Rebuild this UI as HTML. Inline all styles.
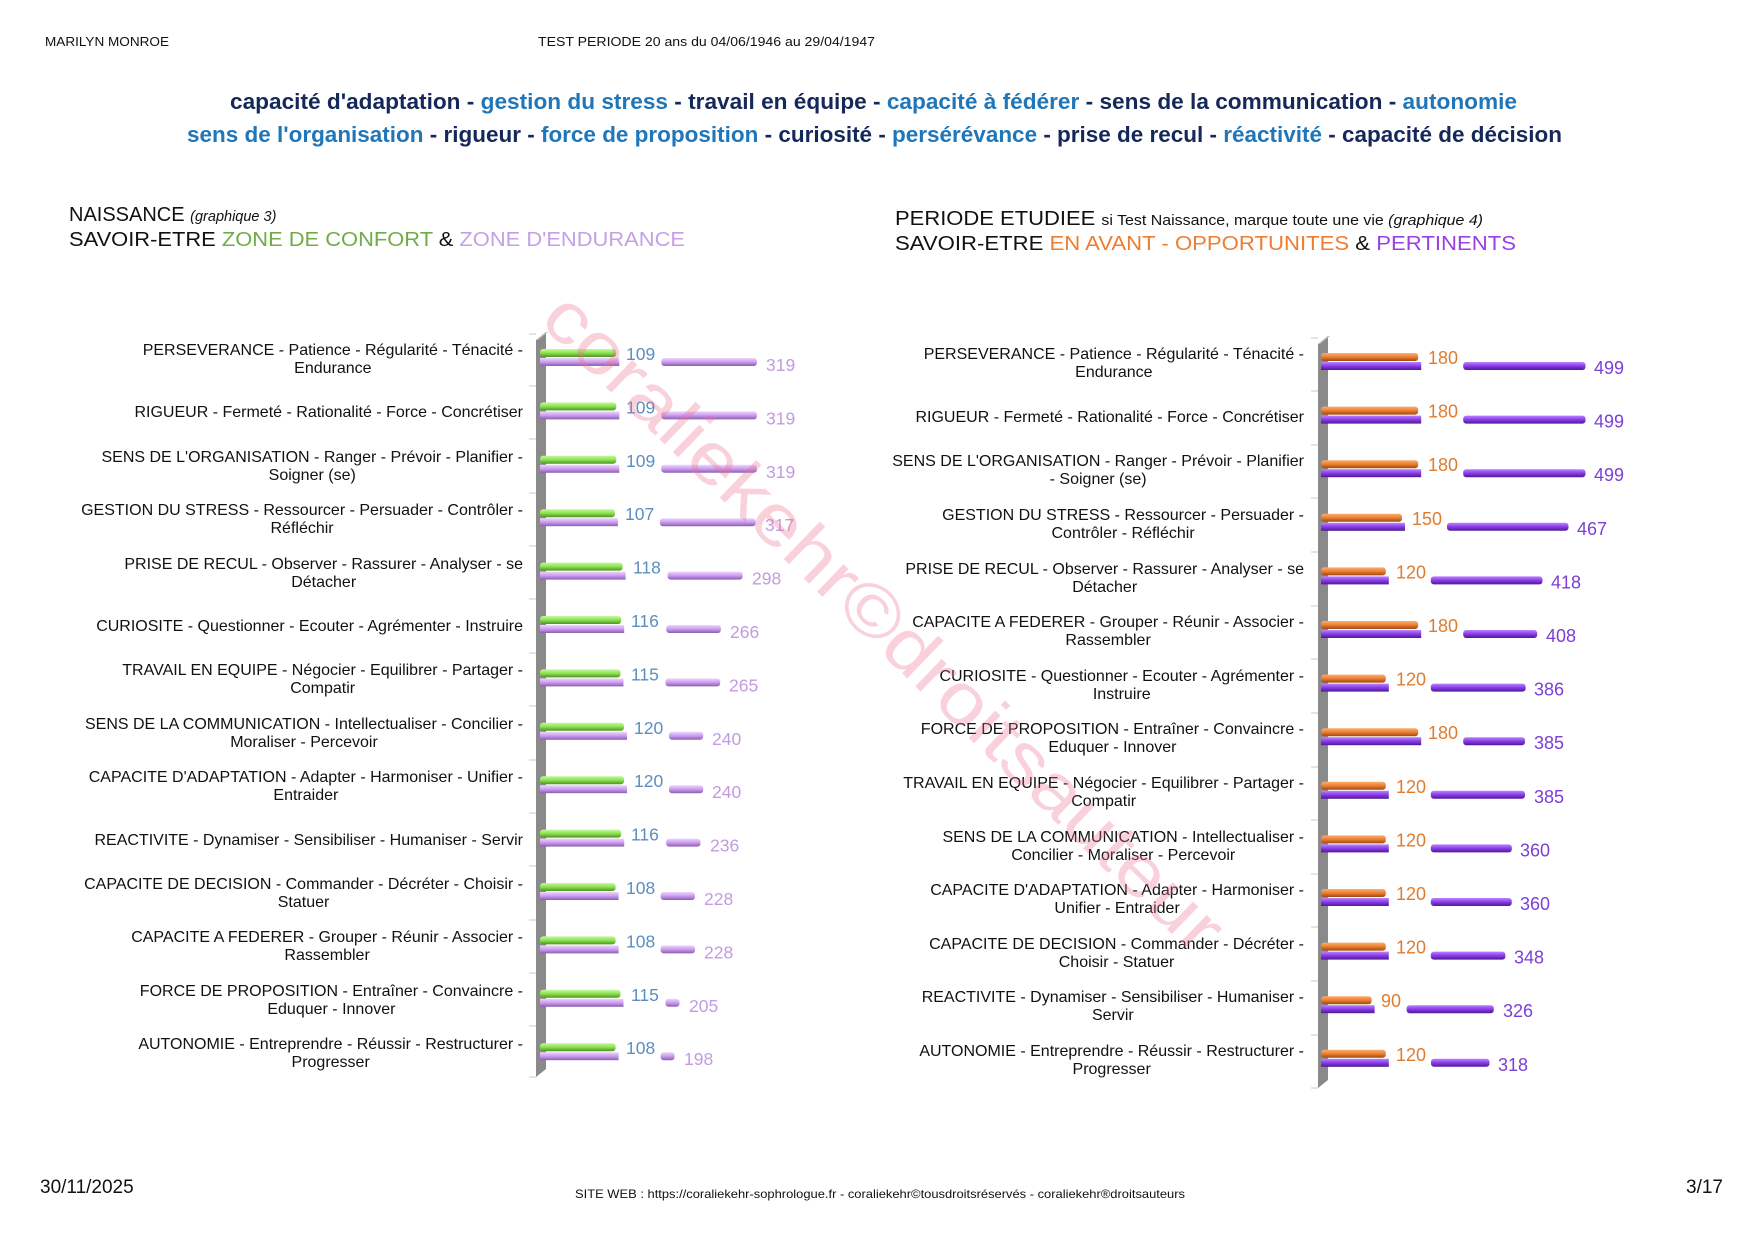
<!DOCTYPE html>
<html><head><meta charset="utf-8">
<style>
html,body{margin:0;padding:0;background:#fff;}
#p{position:relative;width:1754px;height:1240px;overflow:hidden;background:#fff;font-family:"Liberation Sans",Arial,sans-serif;}
svg{position:absolute;left:0;top:0;}
.l{position:absolute;font-size:16px;line-height:18px;color:#111;text-align:center;transform:translateY(-50%);white-space:nowrap;}
.L{right:1231px;}
.R{right:450px;}
</style></head><body><div id="p">
<svg width="1754" height="1240" viewBox="0 0 1754 1240" font-family="Liberation Sans, Arial, sans-serif">
<defs>
<linearGradient id="gg" x1="0" y1="0" x2="0" y2="1"><stop offset="0" stop-color="#c6f7a0"/><stop offset="0.5" stop-color="#8be24c"/><stop offset="1" stop-color="#4c9326"/></linearGradient>
<linearGradient id="gl" x1="0" y1="0" x2="0" y2="1"><stop offset="0" stop-color="#eed6fb"/><stop offset="0.5" stop-color="#cb9cef"/><stop offset="1" stop-color="#8a5fae"/></linearGradient>
<linearGradient id="go" x1="0" y1="0" x2="0" y2="1"><stop offset="0" stop-color="#f9b070"/><stop offset="0.5" stop-color="#ee7d2f"/><stop offset="1" stop-color="#9c4a10"/></linearGradient>
<linearGradient id="gp" x1="0" y1="0" x2="0" y2="1"><stop offset="0" stop-color="#b985ff"/><stop offset="0.5" stop-color="#8a3be6"/><stop offset="1" stop-color="#4c1a96"/></linearGradient>
</defs>
<text x="45" y="46" font-size="12.5" textLength="124" lengthAdjust="spacingAndGlyphs" fill="#111">MARILYN MONROE</text>
<text x="538" y="46" font-size="12.5" textLength="337" lengthAdjust="spacingAndGlyphs" fill="#111">TEST PERIODE 20 ans du 04/06/1946 au 29/04/1947</text>
<text x="230" y="109" font-size="22" font-weight="bold" textLength="1287" lengthAdjust="spacingAndGlyphs"><tspan fill="#14285a">capacité d'adaptation - </tspan><tspan fill="#1f76b8">gestion du stress</tspan><tspan fill="#14285a"> - travail en équipe - </tspan><tspan fill="#1f76b8">capacité à fédérer</tspan><tspan fill="#14285a"> - sens de la communication - </tspan><tspan fill="#1f76b8">autonomie</tspan></text>
<text x="187" y="142" font-size="22" font-weight="bold" textLength="1375" lengthAdjust="spacingAndGlyphs"><tspan fill="#1f76b8">sens de l'organisation</tspan><tspan fill="#14285a"> - rigueur - </tspan><tspan fill="#1f76b8">force de proposition</tspan><tspan fill="#14285a"> - curiosité - </tspan><tspan fill="#1f76b8">persérévance</tspan><tspan fill="#14285a"> - prise de recul - </tspan><tspan fill="#1f76b8">réactivité</tspan><tspan fill="#14285a"> - capacité de décision</tspan></text>
<text x="69" y="221" font-size="20" fill="#111">NAISSANCE <tspan font-size="14.5" font-style="italic">(graphique 3)</tspan></text>
<text x="69" y="246" font-size="20" textLength="616" lengthAdjust="spacingAndGlyphs" fill="#111">SAVOIR-ETRE <tspan fill="#70ad47">ZONE DE CONFORT</tspan> &amp; <tspan fill="#c6a0e6">ZONE D'ENDURANCE</tspan></text>
<text x="895" y="225" font-size="20" fill="#111" textLength="588" lengthAdjust="spacingAndGlyphs">PERIODE ETUDIEE <tspan font-size="14.5">si Test Naissance, marque toute une vie </tspan><tspan font-size="14.5" font-style="italic">(graphique 4)</tspan></text>
<text x="895" y="250" font-size="20" fill="#111" textLength="621" lengthAdjust="spacingAndGlyphs">SAVOIR-ETRE <tspan fill="#ed7d31">EN AVANT - OPPORTUNITES</tspan> &amp; <tspan fill="#9a40e6">PERTINENTS</tspan></text>

<polygon points="536,340 546,332 546,1069 536,1077" fill="#8a8a8a"/>
<polygon points="536,340 546,332 548,332 538,340" fill="#bbb"/>
<g stroke="#c8c8c8" stroke-width="1">
<line x1="529" y1="334" x2="536" y2="334"/><line x1="529" y1="386" x2="536" y2="386"/><line x1="529" y1="439" x2="536" y2="439"/><line x1="529" y1="493" x2="536" y2="493"/><line x1="529" y1="546" x2="536" y2="546"/><line x1="529" y1="599" x2="536" y2="599"/><line x1="529" y1="653" x2="536" y2="653"/><line x1="529" y1="706" x2="536" y2="706"/><line x1="529" y1="760" x2="536" y2="760"/><line x1="529" y1="813" x2="536" y2="813"/><line x1="529" y1="866" x2="536" y2="866"/><line x1="529" y1="920" x2="536" y2="920"/><line x1="529" y1="973" x2="536" y2="973"/><line x1="529" y1="1026" x2="536" y2="1026"/><line x1="529" y1="1077" x2="536" y2="1077"/>
</g>
<g font-size="17.5">
<g transform="translate(0,349)"><rect x="540" y="0" width="76.3" height="8" rx="3" fill="url(#gg)"/><rect x="540" y="9" width="79.3" height="8" fill="url(#gl)"/><rect x="661.3" y="9" width="95.6" height="8" rx="3" fill="url(#gl)"/><text x="626" y="11" fill="#5b8fc0">109</text><text x="766" y="22" fill="#c39be0">319</text></g>
<g transform="translate(0,402.4)"><rect x="540" y="0" width="76.3" height="8" rx="3" fill="url(#gg)"/><rect x="540" y="9" width="79.3" height="8" fill="url(#gl)"/><rect x="661.3" y="9" width="95.6" height="8" rx="3" fill="url(#gl)"/><text x="626" y="11" fill="#5b8fc0">109</text><text x="766" y="22" fill="#c39be0">319</text></g>
<g transform="translate(0,455.8)"><rect x="540" y="0" width="76.3" height="8" rx="3" fill="url(#gg)"/><rect x="540" y="9" width="79.3" height="8" fill="url(#gl)"/><rect x="661.3" y="9" width="95.6" height="8" rx="3" fill="url(#gl)"/><text x="626" y="11" fill="#5b8fc0">109</text><text x="766" y="22" fill="#c39be0">319</text></g>
<g transform="translate(0,509.2)"><rect x="540" y="0" width="74.9" height="8" rx="3" fill="url(#gg)"/><rect x="540" y="9" width="77.9" height="8" fill="url(#gl)"/><rect x="659.9" y="9" width="95.7" height="8" rx="3" fill="url(#gl)"/><text x="625" y="11" fill="#5b8fc0">107</text><text x="765" y="22" fill="#c39be0">317</text></g>
<g transform="translate(0,562.6)"><rect x="540" y="0" width="82.6" height="8" rx="3" fill="url(#gg)"/><rect x="540" y="9" width="85.6" height="8" fill="url(#gl)"/><rect x="667.6" y="9" width="75" height="8" rx="3" fill="url(#gl)"/><text x="633" y="11" fill="#5b8fc0">118</text><text x="752" y="22" fill="#c39be0">298</text></g>
<g transform="translate(0,616)"><rect x="540" y="0" width="81.2" height="8" rx="3" fill="url(#gg)"/><rect x="540" y="9" width="84.2" height="8" fill="url(#gl)"/><rect x="666.2" y="9" width="54.7" height="8" rx="3" fill="url(#gl)"/><text x="631" y="11" fill="#5b8fc0">116</text><text x="730" y="22" fill="#c39be0">266</text></g>
<g transform="translate(0,669.4)"><rect x="540" y="0" width="80.5" height="8" rx="3" fill="url(#gg)"/><rect x="540" y="9" width="83.5" height="8" fill="url(#gl)"/><rect x="665.5" y="9" width="54.7" height="8" rx="3" fill="url(#gl)"/><text x="631" y="11" fill="#5b8fc0">115</text><text x="729" y="22" fill="#c39be0">265</text></g>
<g transform="translate(0,722.8)"><rect x="540" y="0" width="84" height="8" rx="3" fill="url(#gg)"/><rect x="540" y="9" width="87" height="8" fill="url(#gl)"/><rect x="669" y="9" width="34.2" height="8" rx="3" fill="url(#gl)"/><text x="634" y="11" fill="#5b8fc0">120</text><text x="712" y="22" fill="#c39be0">240</text></g>
<g transform="translate(0,776.2)"><rect x="540" y="0" width="84" height="8" rx="3" fill="url(#gg)"/><rect x="540" y="9" width="87" height="8" fill="url(#gl)"/><rect x="669" y="9" width="34.2" height="8" rx="3" fill="url(#gl)"/><text x="634" y="11" fill="#5b8fc0">120</text><text x="712" y="22" fill="#c39be0">240</text></g>
<g transform="translate(0,829.6)"><rect x="540" y="0" width="81.2" height="8" rx="3" fill="url(#gg)"/><rect x="540" y="9" width="84.2" height="8" fill="url(#gl)"/><rect x="666.2" y="9" width="34.3" height="8" rx="3" fill="url(#gl)"/><text x="631" y="11" fill="#5b8fc0">116</text><text x="710" y="22" fill="#c39be0">236</text></g>
<g transform="translate(0,883)"><rect x="540" y="0" width="75.6" height="8" rx="3" fill="url(#gg)"/><rect x="540" y="9" width="78.6" height="8" fill="url(#gl)"/><rect x="660.6" y="9" width="34.4" height="8" rx="3" fill="url(#gl)"/><text x="626" y="11" fill="#5b8fc0">108</text><text x="704" y="22" fill="#c39be0">228</text></g>
<g transform="translate(0,936.4)"><rect x="540" y="0" width="75.6" height="8" rx="3" fill="url(#gg)"/><rect x="540" y="9" width="78.6" height="8" fill="url(#gl)"/><rect x="660.6" y="9" width="34.4" height="8" rx="3" fill="url(#gl)"/><text x="626" y="11" fill="#5b8fc0">108</text><text x="704" y="22" fill="#c39be0">228</text></g>
<g transform="translate(0,989.8)"><rect x="540" y="0" width="80.5" height="8" rx="3" fill="url(#gg)"/><rect x="540" y="9" width="83.5" height="8" fill="url(#gl)"/><rect x="665.5" y="9" width="14" height="8" rx="3" fill="url(#gl)"/><text x="631" y="11" fill="#5b8fc0">115</text><text x="689" y="22" fill="#c39be0">205</text></g>
<g transform="translate(0,1043.2)"><rect x="540" y="0" width="75.6" height="8" rx="3" fill="url(#gg)"/><rect x="540" y="9" width="78.6" height="8" fill="url(#gl)"/><rect x="660.6" y="9" width="14" height="8" rx="3" fill="url(#gl)"/><text x="626" y="11" fill="#5b8fc0">108</text><text x="684" y="22" fill="#c39be0">198</text></g>
</g>

<polygon points="1318,344 1328,336 1328,1080 1318,1088" fill="#8a8a8a"/>
<polygon points="1318,344 1328,336 1330,336 1320,344" fill="#bbb"/>
<g stroke="#c8c8c8" stroke-width="1">
<line x1="1311" y1="338" x2="1318" y2="338"/><line x1="1311" y1="391" x2="1318" y2="391"/><line x1="1311" y1="445" x2="1318" y2="445"/><line x1="1311" y1="498" x2="1318" y2="498"/><line x1="1311" y1="552" x2="1318" y2="552"/><line x1="1311" y1="606" x2="1318" y2="606"/><line x1="1311" y1="659" x2="1318" y2="659"/><line x1="1311" y1="713" x2="1318" y2="713"/><line x1="1311" y1="767" x2="1318" y2="767"/><line x1="1311" y1="820" x2="1318" y2="820"/><line x1="1311" y1="874" x2="1318" y2="874"/><line x1="1311" y1="927" x2="1318" y2="927"/><line x1="1311" y1="981" x2="1318" y2="981"/><line x1="1311" y1="1035" x2="1318" y2="1035"/><line x1="1311" y1="1088" x2="1318" y2="1088"/>
</g>
<g font-size="18">
<g transform="translate(0,353)"><rect x="1321" y="0" width="97.2" height="8" rx="3" fill="url(#go)"/><rect x="1321" y="9" width="100.2" height="8" fill="url(#gp)"/><rect x="1463.2" y="9" width="122.3" height="8" rx="3" fill="url(#gp)"/><text x="1428" y="11" fill="#e07c30">180</text><text x="1594" y="21" fill="#7b3fd6">499</text></g>
<g transform="translate(0,406.6)"><rect x="1321" y="0" width="97.2" height="8" rx="3" fill="url(#go)"/><rect x="1321" y="9" width="100.2" height="8" fill="url(#gp)"/><rect x="1463.2" y="9" width="122.3" height="8" rx="3" fill="url(#gp)"/><text x="1428" y="11" fill="#e07c30">180</text><text x="1594" y="21" fill="#7b3fd6">499</text></g>
<g transform="translate(0,460.2)"><rect x="1321" y="0" width="97.2" height="8" rx="3" fill="url(#go)"/><rect x="1321" y="9" width="100.2" height="8" fill="url(#gp)"/><rect x="1463.2" y="9" width="122.3" height="8" rx="3" fill="url(#gp)"/><text x="1428" y="11" fill="#e07c30">180</text><text x="1594" y="21" fill="#7b3fd6">499</text></g>
<g transform="translate(0,513.8)"><rect x="1321" y="0" width="81" height="8" rx="3" fill="url(#go)"/><rect x="1321" y="9" width="84" height="8" fill="url(#gp)"/><rect x="1447" y="9" width="121.5" height="8" rx="3" fill="url(#gp)"/><text x="1412" y="11" fill="#e07c30">150</text><text x="1577" y="21" fill="#7b3fd6">467</text></g>
<g transform="translate(0,567.4)"><rect x="1321" y="0" width="64.8" height="8" rx="3" fill="url(#go)"/><rect x="1321" y="9" width="67.8" height="8" fill="url(#gp)"/><rect x="1430.8" y="9" width="111.7" height="8" rx="3" fill="url(#gp)"/><text x="1396" y="11" fill="#e07c30">120</text><text x="1551" y="21" fill="#7b3fd6">418</text></g>
<g transform="translate(0,621)"><rect x="1321" y="0" width="97.2" height="8" rx="3" fill="url(#go)"/><rect x="1321" y="9" width="100.2" height="8" fill="url(#gp)"/><rect x="1463.2" y="9" width="74" height="8" rx="3" fill="url(#gp)"/><text x="1428" y="11" fill="#e07c30">180</text><text x="1546" y="21" fill="#7b3fd6">408</text></g>
<g transform="translate(0,674.6)"><rect x="1321" y="0" width="64.8" height="8" rx="3" fill="url(#go)"/><rect x="1321" y="9" width="67.8" height="8" fill="url(#gp)"/><rect x="1430.8" y="9" width="94.8" height="8" rx="3" fill="url(#gp)"/><text x="1396" y="11" fill="#e07c30">120</text><text x="1534" y="21" fill="#7b3fd6">386</text></g>
<g transform="translate(0,728.2)"><rect x="1321" y="0" width="97.2" height="8" rx="3" fill="url(#go)"/><rect x="1321" y="9" width="100.2" height="8" fill="url(#gp)"/><rect x="1463.2" y="9" width="61.8" height="8" rx="3" fill="url(#gp)"/><text x="1428" y="11" fill="#e07c30">180</text><text x="1534" y="21" fill="#7b3fd6">385</text></g>
<g transform="translate(0,781.8)"><rect x="1321" y="0" width="64.8" height="8" rx="3" fill="url(#go)"/><rect x="1321" y="9" width="67.8" height="8" fill="url(#gp)"/><rect x="1430.8" y="9" width="94.2" height="8" rx="3" fill="url(#gp)"/><text x="1396" y="11" fill="#e07c30">120</text><text x="1534" y="21" fill="#7b3fd6">385</text></g>
<g transform="translate(0,835.4)"><rect x="1321" y="0" width="64.8" height="8" rx="3" fill="url(#go)"/><rect x="1321" y="9" width="67.8" height="8" fill="url(#gp)"/><rect x="1430.8" y="9" width="81" height="8" rx="3" fill="url(#gp)"/><text x="1396" y="11" fill="#e07c30">120</text><text x="1520" y="21" fill="#7b3fd6">360</text></g>
<g transform="translate(0,889)"><rect x="1321" y="0" width="64.8" height="8" rx="3" fill="url(#go)"/><rect x="1321" y="9" width="67.8" height="8" fill="url(#gp)"/><rect x="1430.8" y="9" width="81" height="8" rx="3" fill="url(#gp)"/><text x="1396" y="11" fill="#e07c30">120</text><text x="1520" y="21" fill="#7b3fd6">360</text></g>
<g transform="translate(0,942.6)"><rect x="1321" y="0" width="64.8" height="8" rx="3" fill="url(#go)"/><rect x="1321" y="9" width="67.8" height="8" fill="url(#gp)"/><rect x="1430.8" y="9" width="74.6" height="8" rx="3" fill="url(#gp)"/><text x="1396" y="11" fill="#e07c30">120</text><text x="1514" y="21" fill="#7b3fd6">348</text></g>
<g transform="translate(0,996.2)"><rect x="1321" y="0" width="50.6" height="8" rx="3" fill="url(#go)"/><rect x="1321" y="9" width="53.6" height="8" fill="url(#gp)"/><rect x="1406.6" y="9" width="87.2" height="8" rx="3" fill="url(#gp)"/><text x="1381" y="11" fill="#e07c30">90</text><text x="1503" y="21" fill="#7b3fd6">326</text></g>
<g transform="translate(0,1049.8)"><rect x="1321" y="0" width="64.8" height="8" rx="3" fill="url(#go)"/><rect x="1321" y="9" width="67.8" height="8" fill="url(#gp)"/><rect x="1431" y="9" width="58.5" height="8" rx="3" fill="url(#gp)"/><text x="1396" y="11" fill="#e07c30">120</text><text x="1498" y="21" fill="#7b3fd6">318</text></g>
</g>

<text x="40" y="1193" font-size="19" fill="#111">30/11/2025</text>
<text x="575" y="1198" font-size="12" fill="#111" textLength="610" lengthAdjust="spacingAndGlyphs">SITE WEB : https://coraliekehr-sophrologue.fr -  coraliekehr©tousdroitsréservés  -  coraliekehr®droitsauteurs</text>
<text x="1723" y="1193" font-size="19" fill="#111" text-anchor="end">3/17</text>
</svg>

<div class="l L" style="top:360px">PERSEVERANCE - Patience - Régularité - Ténacité -<br>Endurance</div>
<div class="l L" style="top:413px">RIGUEUR - Fermeté - Rationalité - Force - Concrétiser</div>
<div class="l L" style="top:467px">SENS DE L'ORGANISATION - Ranger - Prévoir - Planifier -<br>Soigner (se)</div>
<div class="l L" style="top:520px">GESTION DU STRESS - Ressourcer - Persuader - Contrôler -<br>Réfléchir</div>
<div class="l L" style="top:574px">PRISE DE RECUL - Observer - Rassurer - Analyser - se<br>Détacher</div>
<div class="l L" style="top:627px">CURIOSITE - Questionner - Ecouter - Agrémenter - Instruire</div>
<div class="l L" style="top:680px">TRAVAIL EN EQUIPE - Négocier - Equilibrer - Partager -<br>Compatir</div>
<div class="l L" style="top:734px">SENS DE LA COMMUNICATION - Intellectualiser - Concilier -<br>Moraliser - Percevoir</div>
<div class="l L" style="top:787px">CAPACITE D'ADAPTATION - Adapter - Harmoniser - Unifier -<br>Entraider</div>
<div class="l L" style="top:841px">REACTIVITE - Dynamiser - Sensibiliser - Humaniser - Servir</div>
<div class="l L" style="top:894px">CAPACITE DE DECISION - Commander - Décréter - Choisir -<br>Statuer</div>
<div class="l L" style="top:947px">CAPACITE A FEDERER - Grouper - Réunir - Associer -<br>Rassembler</div>
<div class="l L" style="top:1001px">FORCE DE PROPOSITION - Entraîner - Convaincre -<br>Eduquer - Innover</div>
<div class="l L" style="top:1054px">AUTONOMIE - Entreprendre - Réussir - Restructurer -<br>Progresser</div>

<div class="l R" style="top:364px">PERSEVERANCE - Patience - Régularité - Ténacité -<br>Endurance</div>
<div class="l R" style="top:418px">RIGUEUR - Fermeté - Rationalité - Force - Concrétiser</div>
<div class="l R" style="top:471px">SENS DE L'ORGANISATION - Ranger - Prévoir - Planifier<br>- Soigner (se)</div>
<div class="l R" style="top:525px">GESTION DU STRESS - Ressourcer - Persuader -<br>Contrôler - Réfléchir</div>
<div class="l R" style="top:579px">PRISE DE RECUL - Observer - Rassurer - Analyser - se<br>Détacher</div>
<div class="l R" style="top:632px">CAPACITE A FEDERER - Grouper - Réunir - Associer -<br>Rassembler</div>
<div class="l R" style="top:686px">CURIOSITE - Questionner - Ecouter - Agrémenter -<br>Instruire</div>
<div class="l R" style="top:739px">FORCE DE PROPOSITION - Entraîner - Convaincre -<br>Eduquer - Innover</div>
<div class="l R" style="top:793px">TRAVAIL EN EQUIPE - Négocier - Equilibrer - Partager -<br>Compatir</div>
<div class="l R" style="top:847px">SENS DE LA COMMUNICATION - Intellectualiser -<br>Concilier - Moraliser - Percevoir</div>
<div class="l R" style="top:900px">CAPACITE D'ADAPTATION - Adapter - Harmoniser -<br>Unifier - Entraider</div>
<div class="l R" style="top:954px">CAPACITE DE DECISION - Commander - Décréter -<br>Choisir - Statuer</div>
<div class="l R" style="top:1007px">REACTIVITE - Dynamiser - Sensibiliser - Humaniser -<br>Servir</div>
<div class="l R" style="top:1061px">AUTONOMIE - Entreprendre - Réussir - Restructurer -<br>Progresser</div>

<svg width="1754" height="1240" viewBox="0 0 1754 1240" style="pointer-events:none">
<text x="0" y="0" transform="translate(538,322) rotate(44)" font-family="Liberation Sans, Arial, sans-serif" font-size="72" fill="#eb6f8c" fill-opacity="0.32" textLength="915" lengthAdjust="spacingAndGlyphs">coraliekehr©droitsauteur</text>
</svg>
</div></body></html>
